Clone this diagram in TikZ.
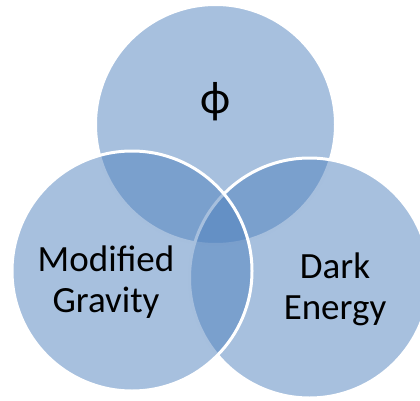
\documentclass[tikz,border=0pt]{standalone}
\usepackage{fontspec}
\setmainfont{Carlito}
\definecolor{venn}{HTML}{4F81BD}
\begin{document}
\begin{tikzpicture}[x=1pt,y=1pt,
  vcircle/.style={circle,minimum size=240pt,inner sep=0pt,fill=venn,fill opacity=0.5,draw=white,line width=3pt,draw opacity=1},
  vlabel/.style={font=\fontsize{37}{41}\selectfont,align=center,text=black,inner sep=0pt}]
\useasboundingbox (0,0) rectangle (420,400);
\clip (0,0) rectangle (420,400);
\node[vcircle] (top) at (215.5,275.5) {};
\node[vcircle] (right) at (309.5,122) {};
\node[vcircle] (left) at (132,129) {};
\node[vlabel,font=\fontsize{46}{50}\selectfont,anchor=center] (phi) at (216,298.5) {ϕ};
\node[vlabel,anchor=base] (mg) at (106,88) {Modified\\Gravity};
\node[vlabel,anchor=base] (de) at (335,81) {Dark\\Energy};
\end{tikzpicture}
\end{document}
